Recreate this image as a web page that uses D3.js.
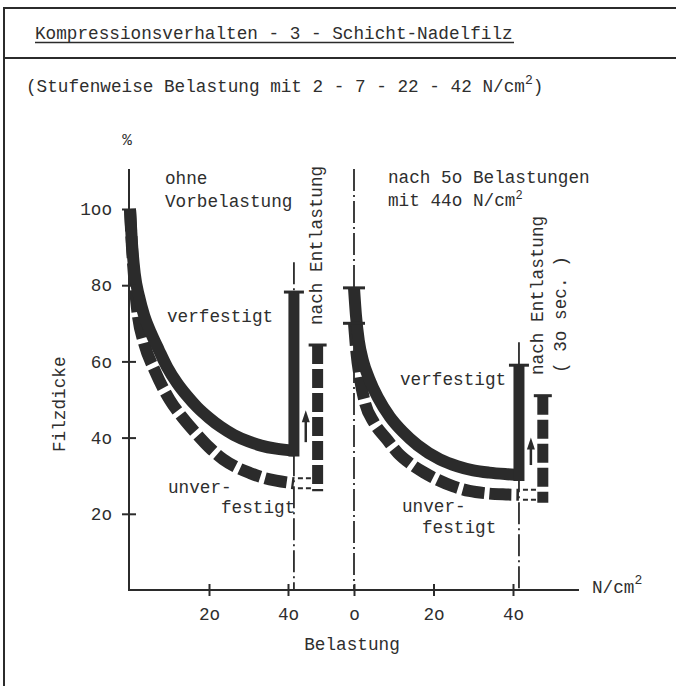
<!DOCTYPE html>
<html><head><meta charset="utf-8">
<script src="https://cdn.jsdelivr.net/npm/d3@7"></script>
<style>
body{margin:0;background:#fff}
svg{display:block}
text{font-family:"Liberation Mono","DejaVu Sans Mono",monospace;fill:#2e2e2e}
</style>
</head><body><svg id="c" width="676" height="686"></svg>
<script>
// ---------------- data ----------------
const titleText = "Kompressionsverhalten - 3 - Schicht-Nadelfilz";
const subtitleText = "(Stufenweise Belastung mit 2 - 7 - 22 - 42 N/cm";
const yTickValues = [20, 40, 60, 80, 100];
const yTickLabels = ["2o", "4o", "6o", "8o", "1oo"];
const xTickValuesLeft = [20, 40];
const xTickLabelsLeft = ["2o", "4o"];
const xTickValuesRight = [0, 20, 40];
const xTickLabelsRight = ["o", "2o", "4o"];

// left panel: ohne Vorbelastung  (load N/cm2 -> Filzdicke %)
const leftSolidLoad   = [0, 0.5, 1.2, 2.3, 3.6, 5.3, 7.3, 9.4, 12, 14.4, 17, 20, 23, 26.3, 30, 33.2, 37, 41.5];
const leftSolidThick  = [100, 91, 83, 77, 72, 67.5, 63, 58.5, 54.2, 51, 48, 45.2, 42.8, 40.7, 39, 37.9, 37.1, 36.6];
const leftDashedLoad  = [0, 0.5, 1.2, 2, 3.5, 6.3, 10, 13.5, 17, 20, 23.6, 27, 30.4, 34, 37, 41.5];
const leftDashedThick = [100, 90, 80, 72, 65, 57.5, 50, 45, 40.8, 37.5, 34.3, 32.2, 30.7, 29.4, 28.7, 28];
// right panel: nach 50 Belastungen mit 440 N/cm2
const rightSolidLoad   = [0, 0.5, 1.2, 2.3, 3.8, 6, 9, 12.3, 16, 21.6, 26, 30, 34, 38.5, 41.5];
const rightSolidThick  = [79.3, 72, 65.5, 60, 55.5, 50.5, 45.5, 41.5, 38, 34.3, 32.5, 31.4, 30.8, 30.4, 30.2];
const rightDashedLoad  = [0, 0.6, 1.5, 2.8, 5, 8.3, 11, 14, 17.5, 20.9, 25, 29, 33, 37.4, 41.5];
const rightDashedThick = [70, 62.5, 55.5, 49, 44, 39.5, 36, 33.3, 30.9, 29, 27.2, 26, 25.4, 25.1, 25];

const lastLoad = 41.5;           // last load step as drawn
const unloadedDashedLoad = 47.5; // x of the "unverfestigt" recovery bar
const arrowLoad = 44.5;
// recovery after unloading [verfestigt, unverfestigt]
const recoveryLeft  = [78.2, 64.3];
const recoveryRight = [59, 51];
const arrowLeft  = [38.8, 47.2];
const arrowRight = [32.8, 40];
const startMarksRight = [79.3, 70];
const dashDotLeftTop = 86;
const dashDotRight0Top = 110.5;
const dashDotRightEndTop = 65;
const yAxisTop = 110.5;
const xAxisEndRight = 56.6;

// ---------------- drawing ----------------
const ink = "#2b2b2b";
const FS = 17.7;
const svg = d3.select("#c");
const y  = d3.scaleLinear().domain([0, 100]).range([590, 209]);
const xL = d3.scaleLinear().domain([0, 40]).range([130, 288]);
const xR = d3.scaleLinear().domain([0, 40]).range([354, 513]);

// frame
svg.append("line").attr("x1", 4).attr("x2", 676).attr("y1", 8).attr("y2", 8).attr("stroke", ink).attr("stroke-width", 2);
svg.append("line").attr("x1", 4).attr("x2", 676).attr("y1", 58).attr("y2", 58).attr("stroke", ink).attr("stroke-width", 2);
svg.append("line").attr("x1", 4).attr("x2", 4).attr("y1", 7).attr("y2", 686).attr("stroke", ink).attr("stroke-width", 2);

svg.append("text").attr("x", 35).attr("y", 39).attr("font-size", FS).text(titleText);
svg.append("line").attr("x1", 35).attr("x2", 514).attr("y1", 42.5).attr("y2", 42.5).attr("stroke", ink).attr("stroke-width", 1.4);
const st = svg.append("text").attr("x", 26).attr("y", 92).attr("font-size", FS);
st.append("tspan").text(subtitleText);
st.append("tspan").attr("dy", -8).attr("font-size", 13).text("2");
st.append("tspan").attr("dy", 8).text(")");

const dashDot = "22,4,2,4";
function vline(x, v0, v1, opts) {
  return svg.append("line").attr("x1", x).attr("x2", x).attr("y1", y(v0)).attr("y2", y(v1))
    .attr("stroke", ink).attr("stroke-width", opts.w).attr("stroke-dasharray", opts.dash || null);
}
function hcap(x, v, half) {
  svg.append("line").attr("x1", x - half).attr("x2", x + half).attr("y1", y(v)).attr("y2", y(v))
    .attr("stroke", ink).attr("stroke-width", 3);
}

// dash-dot guide lines
vline(xL(lastLoad), dashDotLeftTop, 0, {w: 1.8, dash: dashDot});
vline(xR(0), dashDotRight0Top, 0, {w: 1.8, dash: dashDot});
vline(xR(lastLoad), dashDotRightEndTop, 0, {w: 1.8, dash: dashDot});

function panel(xs, sLoad, sThick, dLoad, dThick, rec, arr) {
  const line = d3.line().x(d => xs(d[0])).y(d => y(d[1])).curve(d3.curveMonotoneX);
  const sData = sLoad.map((v, i) => [v, sThick[i]]);
  const dData = dLoad.map((v, i) => [v, dThick[i]]);
  const dEnd = dThick[dThick.length - 1];
  const sEnd = sThick[sThick.length - 1];
  // dashed (unverfestigt) curve
  svg.append("path").attr("d", line(dData)).attr("fill", "none").attr("stroke", ink)
    .attr("stroke-width", 12).attr("stroke-dasharray", "22,5");
  // connector (hollow dashed band)
  const xa = xs(lastLoad) + 4, xb = xs(unloadedDashedLoad) - 5;
  [-5, 5].forEach(o => svg.append("line").attr("x1", xa).attr("x2", xb)
    .attr("y1", y(dEnd) + o).attr("y2", y(dEnd) + o).attr("stroke", ink)
    .attr("stroke-width", 2).attr("stroke-dasharray", "5,3"));
  // dashed recovery bar (from top down)
  svg.append("line").attr("x1", xs(unloadedDashedLoad)).attr("x2", xs(unloadedDashedLoad))
    .attr("y1", y(rec[1])).attr("y2", y(dEnd) + 8).attr("stroke", ink)
    .attr("stroke-width", 11).attr("stroke-dasharray", "19,5");
  hcap(xs(unloadedDashedLoad), rec[1], 9);
  // solid (verfestigt) curve
  svg.append("path").attr("d", line(sData)).attr("fill", "none").attr("stroke", ink).attr("stroke-width", 12);
  // solid recovery bar
  svg.append("line").attr("x1", xs(lastLoad)).attr("x2", xs(lastLoad))
    .attr("y1", y(sEnd) + 6).attr("y2", y(rec[0])).attr("stroke", ink).attr("stroke-width", 11);
  hcap(xs(lastLoad), rec[0], 10);
  // arrow
  const ax = xs(arrowLoad);
  svg.append("line").attr("x1", ax).attr("x2", ax).attr("y1", y(arr[0])).attr("y2", y(arr[1]) + 8)
    .attr("stroke", ink).attr("stroke-width", 2.5);
  svg.append("path").attr("d", `M${ax},${y(arr[1])}L${ax - 4},${y(arr[1]) + 12}L${ax + 4},${y(arr[1]) + 12}Z`).attr("fill", ink);
}
panel(xL, leftSolidLoad, leftSolidThick, leftDashedLoad, leftDashedThick, recoveryLeft, arrowLeft);
panel(xR, rightSolidLoad, rightSolidThick, rightDashedLoad, rightDashedThick, recoveryRight, arrowRight);
startMarksRight.forEach(v => hcap(xR(0), v, 11));

// axes
const yAx = svg.append("g").attr("transform", "translate(129,0)")
  .call(d3.axisLeft(y).tickValues(yTickValues).tickFormat((d, i) => yTickLabels[i]).tickSizeOuter(0).tickSize(7).tickPadding(10));
yAx.select(".domain").remove();
yAx.selectAll(".tick line").attr("x1", -7).attr("x2", 7).attr("stroke", ink).attr("stroke-width", 2);
yAx.selectAll(".tick text").attr("font-size", FS).attr("font-family", null).attr("fill", ink);
svg.append("line").attr("x1", 129).attr("x2", 129).attr("y1", y(yAxisTop)).attr("y2", y(0) + 1).attr("stroke", ink).attr("stroke-width", 2);

function xAxis(xs, vals, labels) {
  const g = svg.append("g").attr("transform", `translate(0,${y(0)})`)
    .call(d3.axisBottom(xs).tickValues(vals).tickFormat((d, i) => labels[i]).tickSizeOuter(0));
  g.select(".domain").remove();
  g.selectAll(".tick line").attr("y1", -6).attr("y2", 6).attr("stroke", ink).attr("stroke-width", 2);
  g.selectAll(".tick text").attr("y", 17.4).attr("font-size", FS).attr("font-family", null).attr("fill", ink);
}
xAxis(xL, xTickValuesLeft, xTickLabelsLeft);
xAxis(xR, xTickValuesRight, xTickLabelsRight);
svg.append("line").attr("x1", 128).attr("x2", xR(xAxisEndRight)).attr("y1", y(0)).attr("y2", y(0)).attr("stroke", ink).attr("stroke-width", 2);

// annotations
function txt(x, yy, s, o = {}) {
  const t = svg.append("text").attr("font-size", o.fs || FS).attr("text-anchor", o.anchor || "start");
  if (o.rot) t.attr("transform", `translate(${x},${yy}) rotate(-90)`); else t.attr("x", x).attr("y", yy);
  t.text(s);
  return t;
}
txt(127, 145, "%", {anchor: "middle", fs: 16});
txt(165, 184, "ohne");
txt(165, 207, "Vorbelastung");
txt(167, 322, "verfestigt");
txt(322, 325, "nach Entlastung", {rot: true});
txt(168, 493, "unver-");
txt(221, 513, "festigt");
txt(65, 452, "Filzdicke", {rot: true});
txt(352, 650, "Belastung", {anchor: "middle"});

txt(388, 183, "nach 5o Belastungen");
const m = txt(388, 206, "mit 44o N/cm");
m.append("tspan").attr("dy", -7).attr("font-size", 12).text("2");
txt(400, 385, "verfestigt");
txt(543, 375, "nach Entlastung", {rot: true});
txt(566, 373, "( 3o sec. )", {rot: true});
txt(402, 512, "unver-");
txt(422, 533, "festigt");
const n = txt(592, 593, "N/cm");
n.append("tspan").attr("dy", -9).attr("font-size", 13).text("2");
</script>
</body></html>
